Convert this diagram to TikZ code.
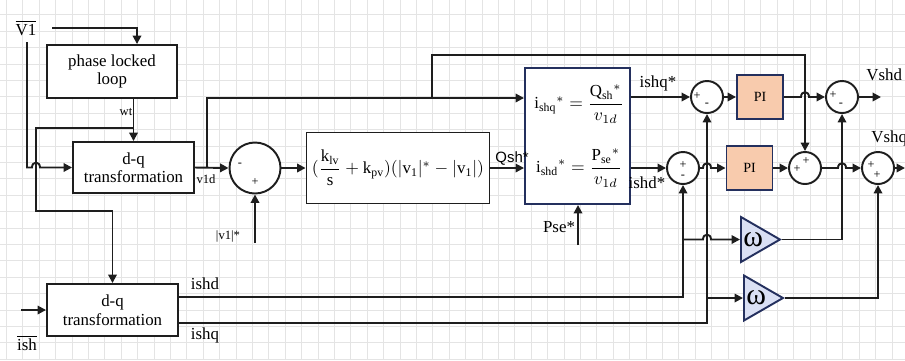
\documentclass[tikz,border=0pt]{standalone}
\usepackage{amsmath}
\usepackage{fontspec}
\setmainfont{Liberation Serif}
\newfontfamily\arialfont{Liberation Sans}
\usepackage{xcolor}
\usetikzlibrary{arrows.meta, positioning, shapes.geometric, calc}

\definecolor{linec}{HTML}{1E1E1E}
\definecolor{navy}{HTML}{24305E}
\definecolor{peach}{HTML}{F8CBAD}
\definecolor{lav}{HTML}{DAE0F4}
\definecolor{gridc}{HTML}{E4E4E4}

\begin{document}
\begin{tikzpicture}[
  x=0.02cm, y=-0.02cm,
  every node/.style={font=\fontsize{9.6}{10.5}\selectfont},
  block/.style={draw=linec, line width=1.1pt, fill=white, align=center, inner sep=1pt},
  sumnode/.style={circle, draw=linec, line width=1.1pt, fill=white, minimum size=0.64cm, inner sep=0pt},
  pibox/.style={draw=navy, line width=1.1pt, fill=peach, minimum width=0.92cm, minimum height=0.88cm, font=\fontsize{8}{9}\selectfont},
  gain/.style={isosceles triangle, isosceles triangle stretches, draw=navy, line width=1.1pt, fill=lav,
    minimum width=0.9cm, minimum height=0.78cm, inner sep=0pt, anchor=lower side, font=\fontsize{17}{17}\selectfont},
  sgn/.style={inner sep=0pt, font=\fontsize{7}{7}\selectfont},
  tinylbl/.style={inner sep=0pt, font=\fontsize{7.2}{8}\selectfont},
  lbl/.style={inner sep=0pt},
  wire/.style={draw=linec, line width=1.1pt},
  arrow/.style={wire, -{Triangle[length=4.8pt,width=4.8pt]}}
]
\useasboundingbox (0,0) rectangle (905,360);

% grid paper
\foreach \gx in {6.5,22.9,...,905} \draw[gridc, line width=0.5pt] (\gx,0) -- (\gx,360);
\foreach \gy in {14.9,31.3,...,360} \draw[gridc, line width=0.5pt] (0,\gy) -- (905,\gy);

% blocks
\node[block, minimum width=2.6cm, minimum height=1.06cm] (pll) at (112,71.5) {phase locked\\loop};
\node[block, minimum width=2.42cm, minimum height=1.02cm] (dq1) at (133.5,167.5) {d-q\\transformation};
\node[block, minimum width=2.62cm, minimum height=1.04cm] (dq2) at (112.5,310) {d-q\\transformation};
\node[sumnode, minimum size=1.02cm] (sum1) at (255,168) {};
\node[block, minimum width=3.66cm, minimum height=1.42cm] (volt) at (398,168)
  {$(\dfrac{\mathrm{k_{lv}}}{\mathrm{s}}+\mathrm{k_{pv}})(|\mathrm{v_1}|^{*}-|\mathrm{v_1}|)$};
\node[block, draw=navy, minimum width=2.1cm, minimum height=2.72cm] (dec) at (577.5,136) {};
\node[lbl] (decq) at (579,104) {$\mathrm{i_{shq}}^{*}=\dfrac{\mathrm{Q_{sh}}^{*}}{v_{1d}}$};
\node[lbl] (decd) at (579,168) {$\mathrm{i_{shd}}^{*}=\dfrac{\mathrm{P_{se}}^{*}}{v_{1d}}$};

\node[sumnode] (sum2) at (707,97) {};
\node[sumnode] (sum3) at (683,168) {};
\node[pibox] (pi1) at (760,97) {PI};
\node[pibox] (pi2) at (749.5,168) {PI};
\node[sumnode] (sum4) at (842,97) {};
\node[sumnode] (sum5) at (805,168) {};
\node[sumnode] (sum6) at (878,168) {};
\node[gain] (g1) at (740,239.5) {ω};
\node[gain] (g2) at (743,298) {ω};

% signs
\node[sgn] (s1a) at ($(sum1)+(-15,-3)$) {-};
\node[sgn] (s1b) at ($(sum1)+(0,14)$) {+};
\node[sgn] (s2a) at ($(sum2)+(-10,-1)$) {+};
\node[sgn] (s2b) at ($(sum2)+(0,8)$) {-};
\node[sgn] (s3a) at ($(sum3)+(0,-3)$) {+};
\node[sgn] (s3b) at ($(sum3)+(0,9)$) {-};
\node[sgn] (s4a) at ($(sum4)+(-9,-2)$) {+};
\node[sgn] (s4b) at ($(sum4)+(-1,8)$) {-};
\node[sgn] (s5a) at ($(sum5)+(-8,1)$) {+};
\node[sgn] (s5b) at ($(sum5)+(1,-7)$) {+};
\node[sgn] (s6a) at ($(sum6)+(-7,-3)$) {+};
\node[sgn] (s6b) at ($(sum6)+(-1,7)$) {+};

% labels and free ends
\node[lbl] (v1lbl) at (26,28) {$\overline{\mathrm{V1}}$};
\coordinate (v1a) at (52,28);
\coordinate (v1b) at (27,42);
\node[tinylbl] (wt) at (126,112) {wt};
\node[tinylbl] (v1d) at (206,179) {v1d};
\node[tinylbl] (vref) at (228,236) {|v1|*};
\coordinate (vrefin) at (255,243);
\node[lbl, anchor=east, font=\arialfont\fontsize{8.5}{9}\selectfont] (qsh) at (529,158) {Qsh*};
\node[lbl] (ishqs) at (658,83) {ishq*};
\node[lbl] (ishds) at (647,183) {ishd*};
\node[lbl] (pse) at (559,227) {Pse*};
\coordinate (psein) at (578,245);
\node[lbl, anchor=west] (vshd) at (866,75) {Vshd};
\coordinate (vshdout) at (881,97);
\node[lbl, anchor=west] (vshq) at (871,138) {Vshq};
\coordinate (vshqout) at (905,168);
\node[lbl] (ishd) at (205,284) {ishd};
\node[lbl] (ishq) at (205,335) {ishq};
\node[lbl] (ishlbl) at (27,343) {$\overline{\mathrm{ish}}$};
\coordinate (ishin) at (21,310);

% junctions
\coordinate (wtj) at (133.5,128);
\coordinate (vdj) at (207,167.5);
\coordinate (vtop) at (432,98);
\coordinate (vhigh) at (432,55);
\coordinate (ishdj) at (683,239.5);
\coordinate (ishqj) at (707,298);

% voltage side
\draw[arrow] (v1a) -| ([xshift=0.5cm]pll.north);
\draw[arrow] (v1b) |- (32,167.5) .. controls (32,161) and (40,161) .. (40,167.5) -- (dq1.west);
\draw[arrow] (pll.south -| dq1.north) -- (dq1.north);
\draw[arrow] (wtj) -- (36,128) -- (36,211) -| (dq2.north);
\draw[arrow] (ishin) -- (dq2.west);
\draw[arrow] (dq1.east) -- (sum1.west);
\draw[arrow] (vrefin) -- (sum1.south);
\draw[arrow] (sum1.east) -- (volt.west);
\draw[arrow] (vdj) |- (vtop) -- (dec.west |- vtop);
\draw[arrow] (vtop) -- (vhigh) -| (sum5.north);
\draw[arrow] (volt.east) -- (dec.west |- volt.east);
\draw[arrow] (psein) -- (dec.south -| psein);

% current loops
\draw[arrow] (sum2.west -| dec.east) -- (sum2.west);
\draw[arrow] (sum3.west -| dec.east) -- (sum3.west);
\draw[arrow] (sum2.east) -- (pi1.west);
\draw[arrow] (sum3.east) -- (703,168) .. controls (703,161.5) and (711,161.5) .. (711,168) -- (pi2.west);
\draw[arrow] (pi1.east) -- (801,97) .. controls (801,90.5) and (809,90.5) .. (809,97) -- (sum4.west);
\draw[arrow] (pi2.east) -- (sum5.west);
\draw[arrow] (sum5.east) -- (838,168) .. controls (838,161.5) and (846,161.5) .. (846,168) -- (sum6.west);
\draw[arrow] (sum4.east) -- (vshdout);
\draw[arrow] (sum6.east) -- (vshqout);

\draw[arrow] ([yshift=0.26cm]dq2.east) -| (sum3.south);
\draw[arrow] ([yshift=-0.26cm]dq2.east) -| (sum2.south);
\draw[arrow] (ishdj) -- (703,239.5) .. controls (703,233) and (711,233) .. (711,239.5) -- (g1.lower side);
\draw[arrow] (ishqj) -- (g2.lower side);
\draw[arrow] (g1.apex) -| (sum4.south);
\draw[arrow] (g2.apex) -| (sum6.south);
\end{tikzpicture}
\end{document}
